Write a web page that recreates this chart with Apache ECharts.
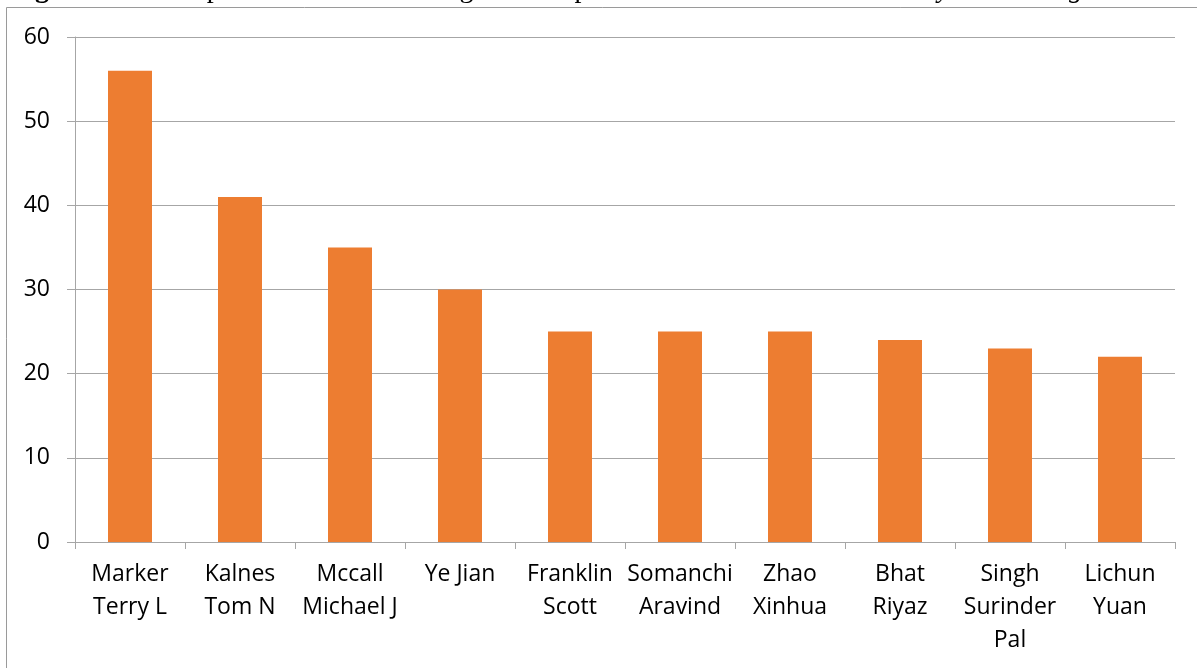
<!DOCTYPE html>
<html>
<head>
<meta charset="utf-8">
<script src="https://cdn.jsdelivr.net/npm/echarts@6/dist/echarts.min.js"></script>
<style>
  html, body { margin: 0; padding: 0; background: #ffffff; }
  #chart { width: 1197px; height: 668px; }
</style>
</head>
<body>
<div id="chart"></div>
<script>
// Inventors (axis labels, line breaks as printed under each bar)
const inventors = [
  'Marker\nTerry L',
  'Kalnes\nTom N',
  'Mccall\nMichael J',
  'Ye Jian',
  'Franklin\nScott',
  'Somanchi\nAravind',
  'Zhao\nXinhua',
  'Bhat\nRiyaz',
  'Singh\nSurinder\nPal',
  'Lichun\nYuan'
];
// Number of patent records per inventor
const patentCounts = [56, 41, 35, 30, 25, 25, 25, 24, 23, 22];
// Value axis range
const yMin = 0;
const yMax = 60;
const yStep = 10;

const labelFont = '"Open Sans", "Noto Sans", sans-serif';
const gridGray = '#a6a6a6';
const serif = '"Liberation Serif", "DejaVu Serif", serif';

const chart = echarts.init(document.getElementById('chart'), null, { renderer: 'canvas' });

chart.setOption({
  animation: false,
  backgroundColor: '#ffffff',
  graphic: [
    {
      type: 'rect',
      silent: true,
      shape: { x: 6.5, y: 7.5, width: 1400, height: 900 },
      style: { fill: 'none', stroke: '#9a9a9a', lineWidth: 1 },
      z: -10
    },
    {
      // caption sitting above the chart frame, mostly outside the page
      type: 'text',
      silent: true,
      z: 10,
      style: {
        x: 10,
        y: 3.5,
        verticalAlign: 'bottom',
        align: 'left',
        text: '{b|Figura 8 –} Principais inventores com registros de patentes relacionadas com {i|Catalytic cracking}',
        fontFamily: serif,
        fontSize: 28,
        lineHeight: 28,
        fill: '#000000',
        rich: {
          b: { fontFamily: serif, fontSize: 28, lineHeight: 28, fontWeight: 'bold', fill: '#000000' },
          i: { fontFamily: serif, fontSize: 28, lineHeight: 28, fontStyle: 'italic', fill: '#000000' }
        }
      }
    }
  ],
  grid: {
    left: 75,
    right: 22,
    top: 37,
    bottom: 126,
    containLabel: false
  },
  xAxis: {
    type: 'category',
    data: inventors,
    boundaryGap: true,
    axisLine: { show: true, lineStyle: { color: gridGray, width: 1 } },
    axisTick: { show: true, alignWithLabel: false, length: 7, lineStyle: { color: gridGray, width: 1 } },
    axisLabel: {
      interval: 0,
      margin: 16,
      color: '#000000',
      fontFamily: labelFont,
      fontSize: 23,
      lineHeight: 33,
      align: 'center'
    },
    splitLine: { show: false }
  },
  yAxis: {
    type: 'value',
    min: yMin,
    max: yMax,
    interval: yStep,
    axisLine: { show: true, lineStyle: { color: gridGray, width: 1 } },
    axisTick: { show: true, length: 8, lineStyle: { color: gridGray, width: 1 } },
    axisLabel: {
      margin: 25,
      color: '#000000',
      fontFamily: labelFont,
      fontSize: 23
    },
    splitLine: { show: true, lineStyle: { color: gridGray, width: 1 } }
  },
  series: [
    {
      type: 'bar',
      data: patentCounts,
      barWidth: '40%',
      itemStyle: { color: '#ed7d31' }
    }
  ]
});
</script>
</body>
</html>
